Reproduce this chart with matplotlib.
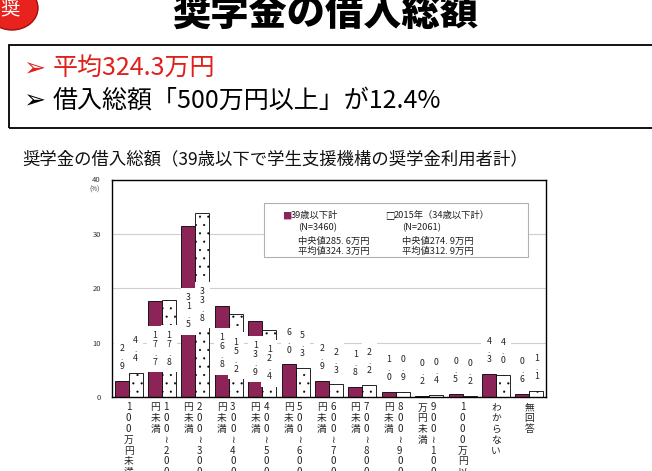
import matplotlib.pyplot as plt
from matplotlib.patches import Rectangle, Ellipse

plt.rcParams['font.family'] = ['Noto Sans CJK JP', 'DejaVu Sans']
plt.rcParams['hatch.linewidth'] = 0.3

# data (%)
categories = ["100万円未満", "100≀200万円未満", "200≀300万円未満", "300≀400万円未満",
              "400≀500万円未満", "500≀600万円未満", "600≀700万円未満", "700≀800万円未満",
              "800≀900万円未満", "900≀1000万円未満", "1000万円以上", "わからない", "無回答"]
share_39 = [2.9, 17.7, 31.5, 16.8, 13.9, 6.0, 2.9, 1.8, 1.0, 0.2, 0.5, 4.3, 0.6]
share_2015 = [4.4, 17.8, 33.8, 15.2, 12.4, 5.3, 2.3, 2.2, 0.9, 0.4, 0.2, 4.0, 1.1]
y_ticks = [0, 10, 20, 30, 40]
legend_39 = ["39歳以下計", "(N=3460)", "中央値285. 6万円", "平均値324. 3万円"]
legend_2015 = ["2015年（34歳以下計）", "(N=2061)", "中央値274. 9万円", "平均値312. 9万円"]

title = "奨学金の借入総額"
point_1 = "平均324.3万円"
point_2 = "借入総額「500万円以上」が12.4%"
subtitle = "奨学金の借入総額（39歳以下で学生支援機構の奨学金利用者計）"

BAR_COLOR = "#8c2457"
W, H = 652, 471

fig = plt.figure(figsize=(W / 100, H / 100), dpi=100)


def fx(px):
    return px / W


def fy(py):
    return 1 - py / H


# header: badge, title, box with the two points
fig.add_artist(Ellipse((fx(12), fy(8)), fx(52), 44 / H, transform=fig.transFigure,
                       facecolor="#e8221c", edgecolor="#a01010", lw=1))
fig.text(fx(10), fy(9), "奨", color="white", fontsize=14, ha="center", va="center")
fig.text(fx(325), fy(14), title, fontsize=27.5, fontweight="heavy", ha="center", va="center")

fig.add_artist(Rectangle((fx(9), fy(128)), 1.0, (128 - 45) / H, transform=fig.transFigure,
                         facecolor="none", edgecolor="black", lw=1.3))
fig.text(fx(34), fy(69), "➢", color="#e0201c", fontsize=19, ha="center", va="center",
         family="DejaVu Sans")
fig.text(fx(53), fy(69), point_1, color="#e0201c", fontsize=18, ha="left", va="center")
fig.text(fx(34), fy(101), "➢", color="black", fontsize=19, ha="center", va="center",
         family="DejaVu Sans")
fig.text(fx(53), fy(101), point_2, color="black", fontsize=18, ha="left", va="center")

fig.text(fx(22), fy(159), subtitle, fontsize=12.5, ha="left", va="center", color="#111111")

# chart
ax = fig.add_axes([fx(112), fy(397), fx(546) - fx(112), (397 - 179.5) / H])
x = list(range(len(categories)))
bw = 0.42
ax.bar([i - 0.21 for i in x], share_39, bw, color=BAR_COLOR, edgecolor="black", lw=0.6, zorder=2)
ax.bar([i + 0.21 for i in x], share_2015, bw, color="white", edgecolor="black", lw=0.6,
       hatch="..", zorder=2)

for xs, vals in ((-0.21, share_39), (0.21, share_2015)):
    for i, v in enumerate(vals):
        s = "\n".join(f"{v:.1f}")
        if v >= 10:
            y, va = v / 2, "center"
        else:
            y, va = v + 1.8, "bottom"
        ax.text(i + xs, y, s, fontsize=6.3, ha="center", va=va, linespacing=1.0, zorder=4,
                color="#222222",
                bbox=dict(boxstyle="square,pad=0.6", facecolor="white", edgecolor="none"))

ax.set_xlim(-0.5, len(categories) - 0.5)
ax.set_ylim(0, 40)
ax.set_yticks(y_ticks)
ax.tick_params(axis="y", length=0, labelsize=5.5, labelcolor="#333333", pad=8)
ax.set_xticks([])
ax.yaxis.grid(True, color="#cfcfcf", lw=0.8)
ax.set_axisbelow(True)
for sp in ax.spines.values():
    sp.set_color("black")
    sp.set_linewidth(1.0)
ax.text(-0.04, 0.955, "(%)", transform=ax.transAxes, fontsize=4.5, ha="center", va="center",
        color="#333333")

# vertical category labels, 8 characters per column, columns run right to left
tr = ax.get_xaxis_transform()
for i, lab in enumerate(categories):
    cols = [lab[k:k + 8] for k in range(0, len(lab), 8)]
    offs = [0.0] if len(cols) == 1 else [0.12, -0.21]
    for col, off in zip(cols, offs):
        ax.text(i + off, -0.025, "\n".join(col), transform=tr, fontsize=7, ha="center",
                va="top", linespacing=1.1, color="#222222", clip_on=False)

# legend box
ax.add_patch(Rectangle((0.350, 0.644), 0.6085, 0.248, transform=ax.transAxes,
                       facecolor="white", edgecolor="#b0b0b0", lw=0.8, zorder=3))
rows_y = [0.834, 0.780, 0.717, 0.669]
ax.text(0.413, rows_y[0], "■", transform=ax.transAxes, fontsize=6.7, color=BAR_COLOR,
        ha="right", va="center", zorder=4)
ax.text(0.650, rows_y[0], "□", transform=ax.transAxes, fontsize=6.7, color="black",
        ha="right", va="center", zorder=4)
for k, (a, b) in enumerate(zip(legend_39, legend_2015)):
    xa = 0.413 if k == 0 else 0.428
    xb = 0.650 if k == 0 else 0.668
    ax.text(xa, rows_y[k], a, transform=ax.transAxes, fontsize=6.7, ha="left", va="center",
            zorder=4, color="#222222")
    ax.text(xb, rows_y[k], b, transform=ax.transAxes, fontsize=6.7, ha="left", va="center",
            zorder=4, color="#222222")

fig.savefig("out.png", dpi=100, facecolor="white")
